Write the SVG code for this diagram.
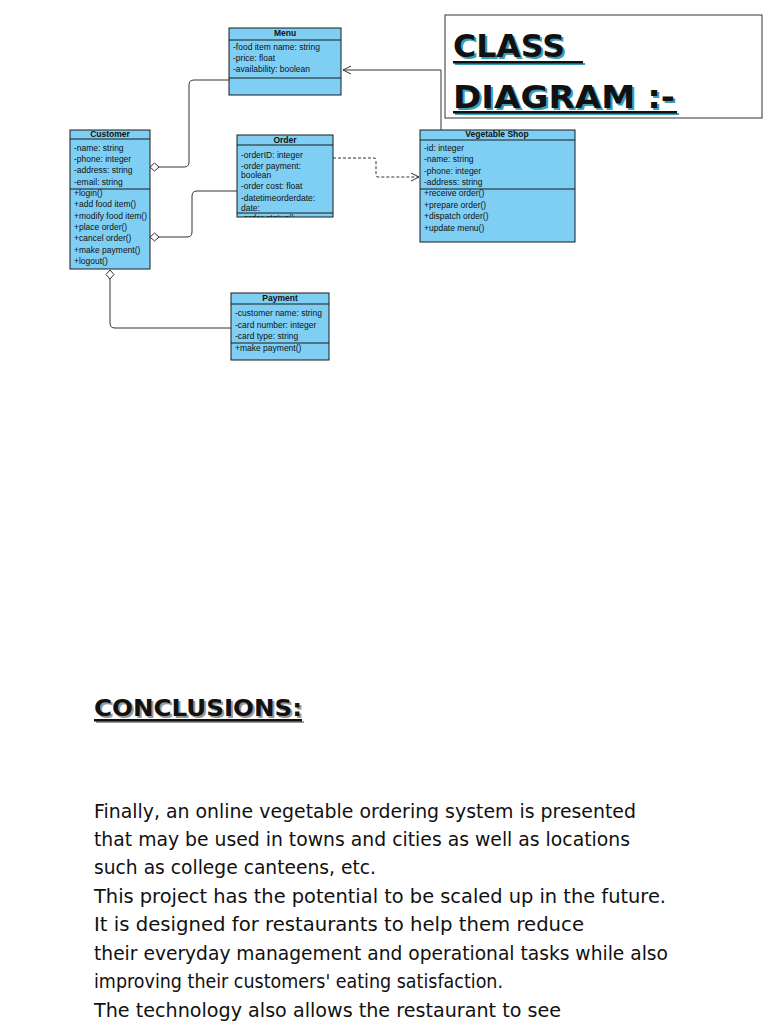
<svg xmlns="http://www.w3.org/2000/svg" width="768" height="1024" viewBox="0 0 768 1024">
<style>
.box{fill:#7fcff5;stroke:#1a1a1a;stroke-width:1}
.sep{stroke:#1a1a1a;stroke-width:1}
.t{font-family:"Liberation Sans",Arial,sans-serif;font-size:8.5px;fill:#111}
.h{font-family:"Liberation Sans",Arial,sans-serif;font-size:8.5px;font-weight:bold;fill:#111;text-anchor:middle}
.conn{fill:none;stroke:#333;stroke-width:1}
.dash{stroke-dasharray:3,2}
.title{font-family:"DejaVu Sans",sans-serif;font-weight:bold;font-size:32px;fill:#111}
.tsh{font-family:"DejaVu Sans",sans-serif;font-weight:bold;font-size:32px;fill:#3a9fba}
.body{font-family:"DejaVu Sans","Liberation Sans",sans-serif;font-size:19.5px;fill:#111}
</style>
<defs>
<marker id="open" markerWidth="10" markerHeight="10" refX="9" refY="5" orient="auto" markerUnits="userSpaceOnUse">
<path d="M1,1 L9,5 L1,9" fill="none" stroke="#333" stroke-width="1"/>
</marker>
<marker id="dia" markerWidth="11" markerHeight="10" refX="1" refY="5" orient="auto" markerUnits="userSpaceOnUse">
<path d="M1,5 L5.5,1 L10,5 L5.5,9 Z" fill="#fff" stroke="#333" stroke-width="1"/>
</marker>
<clipPath id="orderclip"><rect x="236" y="134" width="98" height="83"/></clipPath>
</defs>
<rect width="768" height="1024" fill="#fff"/>

<g id="menu">
<rect class="box" x="229" y="28" width="112" height="67"/>
<line class="sep" x1="229" y1="40" x2="341" y2="40"/>
<line class="sep" x1="229" y1="78" x2="341" y2="78"/>
<text class="h" x="285" y="36">Menu</text>
<text class="t" x="233" y="50">-food item name: string</text>
<text class="t" x="233" y="61">-price: float</text>
<text class="t" x="233" y="72">-availability: boolean</text>
</g>

<g id="customer">
<rect class="box" x="70" y="130" width="80" height="139"/>
<line class="sep" x1="70" y1="139" x2="150" y2="139"/>
<line class="sep" x1="70" y1="189" x2="150" y2="189"/>
<text class="h" x="110" y="137">Customer</text>
<text class="t" x="74" y="151">-name: string</text>
<text class="t" x="74" y="162">-phone: integer</text>
<text class="t" x="74" y="173">-address: string</text>
<text class="t" x="74" y="185">-email: string</text>
<text class="t" x="74" y="196">+login()</text>
<text class="t" x="74" y="207">+add food item()</text>
<text class="t" x="74" y="219">+modify food item()</text>
<text class="t" x="74" y="230">+place order()</text>
<text class="t" x="74" y="241">+cancel order()</text>
<text class="t" x="74" y="253">+make payment()</text>
<text class="t" x="74" y="264">+logout()</text>
</g>

<g id="order">
<rect class="box" x="237" y="135" width="96" height="82"/>
<line class="sep" x1="237" y1="145" x2="333" y2="145"/>
<line class="sep" x1="237" y1="213" x2="333" y2="213" stroke-width="1.5"/>
<text class="h" x="285" y="143">Order</text>
<text class="t" x="241" y="158">-orderID: integer</text>
<text class="t" x="241" y="169">-order payment:</text>
<text class="t" x="241" y="178">boolean</text>
<text class="t" x="241" y="189">-order cost: float</text>
<text class="t" x="241" y="201">-datetimeorderdate:</text>
<text class="t" x="241" y="211">date:</text>
<g clip-path="url(#orderclip)"><text class="t" x="241" y="221">-order status()</text></g>
</g>

<g id="vegetable-shop">
<rect class="box" x="420" y="130" width="155" height="112"/>
<line class="sep" x1="420" y1="140" x2="575" y2="140"/>
<line class="sep" x1="420" y1="189" x2="575" y2="189"/>
<text class="h" x="497" y="137">Vegetable Shop</text>
<text class="t" x="424" y="151">-id: integer</text>
<text class="t" x="424" y="162">-name: string</text>
<text class="t" x="424" y="174">-phone: integer</text>
<text class="t" x="424" y="185">-address: string</text>
<text class="t" x="424" y="196">+receive order()</text>
<text class="t" x="424" y="208">+prepare order()</text>
<text class="t" x="424" y="219">+dispatch order()</text>
<text class="t" x="424" y="231">+update menu()</text>
</g>

<g id="payment">
<rect class="box" x="231" y="293" width="98" height="67"/>
<line class="sep" x1="231" y1="304" x2="329" y2="304"/>
<line class="sep" x1="231" y1="343" x2="329" y2="343"/>
<text class="h" x="280" y="301">Payment</text>
<text class="t" x="235" y="316">-customer name: string</text>
<text class="t" x="235" y="328">-card number: integer</text>
<text class="t" x="235" y="339">-card type: string</text>
<text class="t" x="235" y="351">+make payment()</text>
</g>

<g id="connectors">
<path class="conn" d="M441,130 L441,70 L343,70" marker-end="url(#open)"/>
<path class="conn" d="M150,167 L184,167 Q189,167 189,162 L189,85 Q189,80 194,80 L229,80" marker-start="url(#dia)"/>
<path class="conn" d="M150,237 L187,237 Q192,237 192,232 L192,196 Q192,191 197,191 L237,191" marker-start="url(#dia)"/>
<path class="conn dash" d="M333,158 L374,158 Q376,158 376,160 L376,175 Q376,177 378,177 L419,177" marker-end="url(#open)"/>
<path class="conn" d="M110,270 L110,323 Q110,328 115,328 L231,328" marker-start="url(#dia)"/>
</g>

<g id="title">
<rect x="445" y="15" width="317" height="103" fill="#fff" stroke="#333" stroke-width="1"/>
<text class="tsh" x="455" y="59" textLength="112" lengthAdjust="spacingAndGlyphs">CLASS</text>
<text class="title" x="453" y="57" textLength="112" lengthAdjust="spacingAndGlyphs">CLASS</text>
<rect x="455" y="63" width="130" height="2" fill="#3a9fba"/>
<rect x="453" y="61" width="130" height="2.5" fill="#111"/>
<text class="tsh" x="455" y="110" textLength="222" lengthAdjust="spacingAndGlyphs">DIAGRAM :-</text>
<text class="title" x="453" y="108" textLength="222" lengthAdjust="spacingAndGlyphs">DIAGRAM :-</text>
<rect x="455" y="113" width="224" height="2" fill="#3a9fba"/>
<rect x="453" y="111" width="224" height="2.5" fill="#111"/>
</g>

<g id="conclusions">
<text x="96" y="718" font-family="DejaVu Sans,sans-serif" font-weight="bold" font-size="23" fill="#999" textLength="208" lengthAdjust="spacingAndGlyphs">CONCLUSIONS:</text>
<text x="94" y="716" font-family="DejaVu Sans,sans-serif" font-weight="bold" font-size="23" fill="#111" textLength="208" lengthAdjust="spacingAndGlyphs">CONCLUSIONS:</text>
<rect x="96" y="721" width="208" height="2" fill="#999"/>
<rect x="94" y="719" width="208" height="2.5" fill="#111"/>
<text class="body" x="94" y="818" textLength="542" lengthAdjust="spacingAndGlyphs">Finally, an online vegetable ordering system is presented</text>
<text class="body" x="94" y="846" textLength="536" lengthAdjust="spacingAndGlyphs">that may be used in towns and cities as well as locations</text>
<text class="body" x="94" y="874" textLength="282" lengthAdjust="spacingAndGlyphs">such as college canteens, etc.</text>
<text class="body" x="94" y="903" textLength="572" lengthAdjust="spacingAndGlyphs">This project has the potential to be scaled up in the future.</text>
<text class="body" x="94" y="931" textLength="490" lengthAdjust="spacingAndGlyphs">It is designed for restaurants to help them reduce</text>
<text class="body" x="94" y="960" textLength="574" lengthAdjust="spacingAndGlyphs">their everyday management and operational tasks while also</text>
<text class="body" x="94" y="988" textLength="409" lengthAdjust="spacingAndGlyphs">improving their customers' eating satisfaction.</text>
<text class="body" x="94" y="1017" textLength="467" lengthAdjust="spacingAndGlyphs">The technology also allows the restaurant to see</text>
</g>
</svg>
